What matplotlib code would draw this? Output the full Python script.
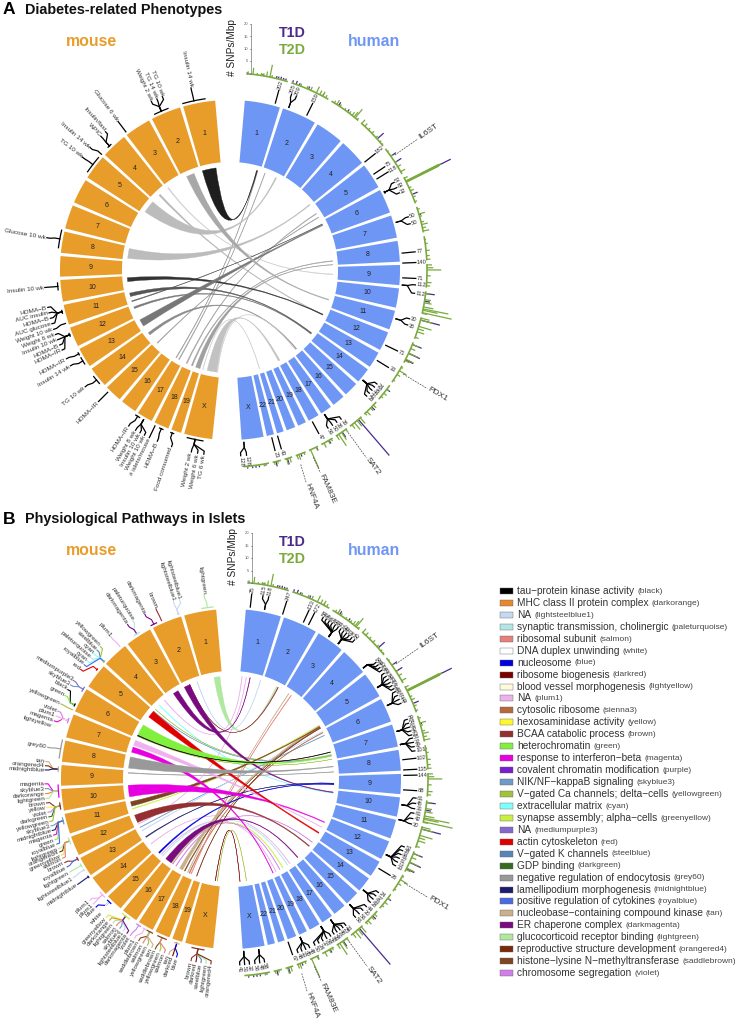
# -*- coding: utf-8 -*-
import numpy as np
import matplotlib
matplotlib.use("Agg")
import matplotlib.pyplot as plt
from matplotlib.path import Path
from matplotlib.patches import PathPatch

plt.rcParams['font.family'] = ['Liberation Sans', 'DejaVu Sans']

# -------------------------------
# Chromosomes (sizes in Mb)
# -------------------------------
mouse_chroms = [1, 2, 3, 4, 5, 6, 7, 8, 9, 10, 11, 12, 13, 14, 15, 16, 17, 18, 19, 'X']
mouse_sizes = [195, 182, 160, 157, 152, 150, 145, 129, 124, 131, 122, 120, 120, 125, 104, 98, 95, 90, 61, 171]
human_chroms = [1, 2, 3, 4, 5, 6, 7, 8, 9, 10, 11, 12, 13, 14, 15, 16, 17, 18, 19, 20, 21, 22, 'X']
human_sizes = [249, 243, 198, 191, 181, 171, 159, 146, 141, 136, 135, 134, 115, 107, 102, 90, 81, 78, 59, 63, 48, 51, 155]

# -------------------------------
# SNP density track (chrom, Mb, SNPs/Mbp)
# -------------------------------
t2d_bars = [
    (1, 5, 1), (1, 35, 2.6), (1, 60, 0.8), (1, 85, 1), (1, 100, 1), (1, 118, 2), (1, 138, 5), (1, 150, 1), (1, 225, 0.6),
    (2, 60, 1), (2, 100, 1.2), (2, 125, 1.5), (2, 162, 2.8), (2, 185, 1.8), (2, 205, 2), (2, 225, 1.2),
    (3, 20, 1), (3, 37, 2), (3, 60, 1), (3, 95, 0.8), (3, 130, 1), (3, 150, 1.6), (3, 165, 2.5), (3, 174, 4.5), (3, 190, 0.8),
    (4, 5, 2), (4, 30, 1.5), (4, 60, 1), (4, 90, 1.2), (4, 125, 1), (4, 160, 0.8), (4, 180, 0.6),
    (5, 20, 0.6), (5, 55, 1), (5, 100, 0.8), (5, 130, 1.5), (5, 165, 2),
    (6, 6, 1.5), (6, 25, 14.5), (6, 27, 15.7), (6, 29, 15.7), (6, 31, 15), (6, 33, 14.5), (6, 70, 1), (6, 90, 1.5), (6, 130, 1.2), (6, 160, 1),
    (7, 15, 1), (7, 45, 2.5), (7, 60, 1), (7, 95, 1.2), (7, 110, 2.5), (7, 130, 1.5), (7, 150, 2.5),
    (8, 20, 0.6), (8, 45, 1), (8, 87, 1.5), (8, 118, 1.3), (8, 140, 1.5),
    (9, 5, 2), (9, 22, 2.5), (9, 35, 5.7), (9, 70, 1.5), (9, 110, 2), (9, 130, 1.5),
    (10, 12, 2), (10, 50, 2.5), (10, 70, 3), (10, 95, 4), (10, 107, 10.3), (10, 115, 6), (10, 130, 12), (10, 134, 2),
    (11, 5, 3.5), (11, 17, 5), (11, 56, 5.3), (11, 72, 2.5), (11, 90, 3), (11, 125, 1.5),
    (12, 14, 3), (12, 40, 2), (12, 70, 4), (12, 110, 3.5), (12, 120, 2),
    (13, 10, 0.8), (13, 33, 3.3), (13, 60, 1.5), (13, 100, 0.8),
    (14, 30, 1), (14, 60, 1.5), (14, 85, 1),
    (15, 25, 1.5), (15, 50, 1.5), (15, 80, 2), (15, 95, 1),
    (16, 10, 3), (16, 35, 3), (16, 55, 3.5), (16, 75, 2),
    (17, 8, 1.5), (17, 40, 3.5), (17, 60, 5.5), (17, 75, 2),
    (18, 10, 1), (18, 30, 1.5), (18, 60, 2),
    (19, 12, 1.5), (19, 49, 8.2),
    (20, 10, 1), (20, 43, 2.2), (20, 55, 1.8),
    (21, 15, 2), (21, 35, 2.5),
    (22, 20, 1), (22, 40, 1.2),
    ('X', 30, 1), ('X', 130, 0.6),
]
t1d_bars = [
    (1, 95, 0.8), (1, 178, 1), (1, 190, 1), (1, 205, 1.2), (1, 220, 1), (1, 235, 1),
    (2, 7, 1.2), (2, 30, 1.5), (2, 50, 1), (2, 110, 1.2), (2, 204, 1),
    (3, 50, 1.6), (3, 115, 1.2),
    (4, 136, 3.5), (5, 55, 2.5), (5, 100, 3),
    (6, 29, 20), (6, 114, 2.5), (7, 50, 0.8),
    (10, 14, 3.7), (10, 60, 2.2), (11, 17, 8), (12, 14, 4), (12, 72, 5), (12, 114, 3.5),
    (14, 30, 1.6), (15, 40, 1.8), (16, 25, 19), (17, 35, 2.5), (18, 25, 1.5),
    (19, 10, 1.5), (20, 30, 1.2), (21, 30, 2.5), (22, 30, 2),
    ('X', 20, 0.8), ('X', 60, 1), ('X', 80, 1), ('X', 100, 1), ('X', 130, 1),
]

# -------------------------------
# Links: (mouse chr, start, end, human chr, start, end, colour), Mb
# -------------------------------
links_a = [
    (3, 147, 157, 9, 81, 89, '#cfcfcf'),
    (4, 74, 90, 12, 83, 93, '#b5b5b5'),
    (15, 23, 30, 5, 145, 151, '#9a9a9a'),
    (17, 18, 25, 1, 215, 221, '#999999'),
    (17, 50, 59, 2, 32, 38, '#a0a0a0'),
    (18, 20, 30, 5, 95, 103, '#a0a0a0'),
    (18, 76, 89, 8, 97, 105, '#a0a0a0'),
    (19, 12, 57, 8, 141, 146, '#a0a0a0'),
    (11, 99, 108, 6, 31, 37, '#5a5a5a'),
    (12, 21, 39, 14, 45, 54, '#777777'),
    (11, 20, 55, 14, 37, 45, '#555555'),
    (10, 16, 55, 12, 80, 89, '#333333'),
    (13, 23, 94, 6, 39, 50, '#777777'),
    (14, 36, 62, 16, 33, 43, '#8a8a8a'),
    ('X', 4, 9, 21, 33, 39, '#d0d0d0'),
    ('X', 150, 156, 16, 47, 53, '#d0d0d0'),
    ('X', 50, 146, 18, 50, 70, '#c2c2c2'),
    (8, 18, 116, 4, 180, 190, '#bcbcbc'),
    (5, 2, 127, 2, 166, 179, '#bcbcbc'),
    (2, 59, 139, 11, 54, 64, '#a8a8a8'),
    (1, 50, 188, 1, 205, 215, '#1e1e1e'),
]
links_b = [
    (2, 34, 41, 1, 238, 244, 'lightsteelblue1'),
    (4, 26, 33, 1, 21, 27, 'plum1'),
    (4, 97, 104, 10, 33, 37, 'cyan'),
    (4, 155, 157, 7, 101, 110, 'yellowgreen'),
    (5, 4, 9, 7, 112, 118, 'skyblue3'),
    (6, 127, 132, 7, 156, 158, 'yellowgreen'),
    (9, 20, 27, 8, 120, 125, 'grey60'),
    (11, 85, 92, 5, 134, 140, 'greenyellow'),
    (13, 4, 9, 6, 60, 66, 'skyblue3'),
    (13, 41, 48, 6, 12, 18, 'lightsteelblue1'),
    (12, 105, 112, 1, 70, 75, 'plum1'),
    (14, 60, 66, 17, 30, 36, 'plum1'),
    (15, 60, 66, 19, 10, 16, 'plum1'),
    (16, 72, 80, 18, 20, 27, 'greenyellow'),
    (15, 80, 86, 17, 60, 66, 'paleturquoise'),
    (17, 5, 12, 14, 40, 46, 'violet'),
    (16, 85, 92, 18, 60, 66, 'violet'),
    (18, 41, 48, 6, 25, 30, 'sienna3'),
    (18, 23, 30, 3, 60, 66, 'tan'),
    (18, 60, 66, 3, 95, 101, 'salmon'),
    (19, 10, 15, 5, 169, 174, 'orangered4'),
    (17, 103, 112, 5, 159, 165, 'saddlebrown'),
    (17, 50, 85, 5, 140, 157, 'tan'),
    ('X', 120, 124, 'X', 130, 134, 'darkred'),
    ('X', 140, 144, 'X', 55, 59, 'yellowgreen'),
    (1, 21, 80, 2, 164, 172, 'lightgreen'),
    (2, 115, 122, 2, 183, 191, 'brown'),
    (3, 45, 99, 1, 114, 120, 'darkmagenta'),
    (2, 114, 176, 10, 21, 29, 'darkmagenta'),
    (13, 113, 122, 9, 83, 91, 'midnightblue'),
    (15, 30, 44, 9, 93, 101, 'blue'),
    (16, 2, 69, 16, 27, 35, 'darkmagenta'),
    (12, 14, 92, 14, 95, 105, 'brown'),
    (11, 16, 62, 5, 151, 159, 'saddlebrown'),
    (10, 2, 117, 12, 64, 72, 'magenta'),
    (7, 76, 129, 19, 47, 53, 'magenta'),
    (7, 5, 59, 12, 130, 134, 'plum1'),
    (5, 9, 80, 13, 43, 56, 'red'),
    (6, 4, 114, 7, 114, 122, 'green'),
    (6, 118, 125, 7, 70, 76, 'black'),
    (8, 12, 125, 8, 56, 64, 'grey60'),
]

# -------------------------------
# QTL / module labels: (bar from, bar to, leaf from, leaf to, texts), degrees from top
# -------------------------------
labels_mouse_a = [
    (8.3, 15.8, 12.1, 12.1, ["Insulin 14 wk"]),
    (21, 25.8, 21.3, 25, ["TG 10 wk", "TG 14 wk", "Weight 2 wk"]),
    (37, 37, 37, 37, ["Glucose 6 wk"]),
    (43.5, 44.8, 42, 44, ["Insulin/fast", "WPIC"]),
    (48, 48, 48.8, 48.8, ["Insulin 14 wk"]),
    (49.5, 55.4, 52.6, 52.6, ["TG 10 wk"]),
    (76.7, 82.6, 80, 80, ["Glucose 10 wk"]),
    (94.3, 96.6, 95.4, 95.4, ["Insulin 10 wk"]),
    (103.5, 104.5, 101.6, 106.8, ["HOMA\u2212B", "AUC insulin", "HOMA\u2212B", "AUC glucose"]),
    (108, 108, 108.6, 108.6, ["Weight 10 wk"]),
    (111.5, 112.5, 110.3, 115.5, ["Weight 6 wk", "Insulin 10 wk", "HOMA\u2212B", "HOMA\u2212IR"]),
    (118.6, 119.4, 118.5, 118.5, ["HOMA\u2212IR"]),
    (120.5, 122.9, 121, 121, ["Insulin 14 wk"]),
    (128, 131, 128.9, 128.9, ["TG 10 wk"]),
    (135, 135, 135, 135, ["HOMA\u2212IR"]),
    (147, 148.5, 147, 147, ["HOMA\u2212IR"]),
    (150, 150, 149.5, 152.6, ["Weight 8 wk", "Insulin 10 wk", "Weight 10 wk"]),
    (154.3, 154.3, 154.3, 154.3, ["# islets/mouse"]),
    (156, 157.2, 157, 157, ["HOMA\u2212B"]),
    (160, 161, 161.7, 161.7, ["Food consumed"]),
    (165.7, 171, 168, 171.9, ["Weight 2 wk", "Weight 6 wk", "TG 6 wk"]),
]
labels_human_a = [
    (15.2, 15.2, 15.2, 15.2, ["202"]),
    (19.9, 19.9, 19.3, 20.9, ["205", "209"]),
    (26.4, 26.4, 26.4, 26.4, ["159"]),
    (51.3, 51.3, 51.3, 51.3, ["182"]),
    (56.3, 56.3, 56.3, 56.3, ["75"]),
    (58.2, 58.2, 58.2, 58.2, ["118"]),
    (63, 63.6, 61.9, 65.5, ["52", "82", "32"]),
    (74, 74, 73.4, 75.6, ["50", "50"]),
    (84.4, 84.4, 84.4, 84.4, ["77"]),
    (87.7, 87.7, 87.7, 87.7, ["140"]),
    (92.6, 92.6, 92.6, 92.6, ["71"]),
    (95, 95, 94.6, 97.2, ["112", "112"]),
    (106.4, 106.4, 105.2, 107.2, ["30", "35"]),
    (115.8, 115.8, 115.8, 115.8, ["71"]),
    (121.6, 121.6, 121.6, 121.6, ["33"]),
    (129.7, 129.7, 127.8, 132.7, ["24", "32", "44", "30", "38"]),
    (146.8, 146.8, 143.3, 148.2, ["36", "36", "50", "56"]),
    (151.5, 151.5, 151.5, 151.5, ["47"]),
    (164, 164, 164, 164, ["43"]),
    (166, 166, 166, 166, ["23"]),
    (175.4, 175.4, 174.9, 176.7, ["128", "128"]),
]
labels_mouse_b = [
    (6, 9.7, 8.3, 8.3, ["lightgreen"]),
    (17.5, 17.9, 16, 18, ["lightsteelblue1", "lightsteelblue1"]),
    (23.7, 23.7, 23.8, 23.8, ["brown"]),
    (25.5, 27.5, 27.6, 27.6, ["darkmagenta"]),
    (32, 34, 31.8, 33.8, ["paleturquoise", "darkmagenta"]),
    (40, 40, 40.2, 40.2, ["plum1"]),
    (47, 47.5, 44.6, 52.1, ["yellowgreen", "steelblue", "cyan", "paleturquoise", "cyan", "royalblue"]),
    (50.5, 51, 53.9, 53.9, ["red"]),
    (58, 59.5, 58, 59.6, ["mediumpurple3", "skyblue3"]),
    (64.3, 65, 61.3, 63.3, ["black", "green"]),
    (66.4, 66.4, 66.2, 66.2, ["yellowgreen"]),
    (69.5, 71, 68.6, 73.4, ["violet", "plum1", "magenta", "lightyellow"]),
    (77, 83, 80.2, 80.2, ["grey60"]),
    (86, 87.5, 84.6, 87.2, ["tan", "orangered4", "midnightblue"]),
    (92, 96, 91.5, 96, ["magenta", "skyblue3", "darkorange", "lightgreen"]),
    (98, 100, 97.4, 103.2, ["brown", "yellow", "violet", "darkgreen", "yellowgreen"]),
    (103, 105, 104.6, 110.5, ["skyblue3", "midnightblue", "magenta", "green", "royalblue"]),
    (110, 112, 112, 115.2, ["lightgreen", "orangered4", "greenyellow", "salmon"]),
    (117, 118, 116.7, 118.2, ["brown", "royalblue"]),
    (119.5, 120.5, 120, 120, ["lightgreen"]),
    (121.5, 122, 122, 122, ["lightsteelblue1"]),
    (124.2, 124.7, 124.5, 124.5, ["midnightblue"]),
    (131, 133, 130.7, 132.2, ["plum1", "plum1"]),
    (134.5, 136, 133.5, 136, ["blue", "white"]),
    (141, 144, 138, 146, ["greenyellow", "darkorange", "lightgreen", "salmon", "skyblue3", "lightsteelblue1", "darkmagenta"]),
    (147, 148.5, 147.3, 147.3, ["violet"]),
    (149.5, 150.5, 148.8, 148.8, ["plum1"]),
    (151, 153, 150.3, 154.8, ["saddlebrown", "salmon", "yellowgreen", "tan"]),
    (155, 158, 156, 159, ["saddlebrown", "yellowgreen", "salmon"]),
    (161, 162.5, 160.5, 163, ["tan", "darkred", "blue"]),
    (167, 171, 167.6, 173.8, ["brown", "darkred", "steelblue", "lightgreen", "orangered4"]),
]
labels_human_b = [
    (6.4, 6.4, 6.4, 6.4, ["25"]),
    (11.2, 11.2, 9.9, 11.7, ["115", "118"]),
    (17.4, 17.4, 17.4, 17.4, ["247"]),
    (24.8, 24.8, 24.8, 24.8, ["133"]),
    (26.7, 26.7, 26.7, 26.7, ["172"]),
    (34.5, 34.5, 29.7, 35.2, ["58", "42", "97", "51", "66", "84"]),
    (38.4, 38.4, 36.2, 41.6, ["77", "60", "49", "53", "71", "90"]),
    (50, 50, 51.2, 54.2, ["56", "44", "30", "62"]),
    (58, 58, 55.4, 61, ["38", "71", "46", "33", "52", "47"]),
    (64.8, 64.8, 62, 66, ["88", "51", "32", "49"]),
    (74, 74, 71.3, 76.3, ["39", "54", "61", "42", "70"]),
    (78.5, 78.5, 77.3, 81.3, ["55", "32", "47", "101"]),
    (83.6, 83.6, 83.6, 83.6, ["102"]),
    (87, 87, 87, 87, ["135"]),
    (88.8, 88.8, 88.8, 88.8, ["144"]),
    (93.6, 93.6, 93.6, 93.6, ["88"]),
    (98.6, 98.6, 95.9, 99.2, ["61", "45", "31"]),
    (103.6, 103.6, 100.6, 104, ["61", "42", "30"]),
    (116, 116, 111.4, 117.8, ["52", "38", "44", "27", "71", "33"]),
    (121.2, 121.2, 121.2, 121.2, ["26"]),
    (130, 130, 127.6, 131.5, ["24", "37", "33", "38"]),
    (136.6, 136.6, 133.3, 138, ["44", "30", "56", "56"]),
    (144.7, 144.7, 141.9, 146.4, ["33", "25", "46", "51", "36"]),
    (148.6, 148.6, 147.6, 153.2, ["42", "58", "37", "24", "50"]),
    (156.4, 156.4, 155, 158.9, ["48", "45", "33", "48"]),
    (160.7, 160.7, 160.7, 160.7, ["67"]),
    (170.8, 170.8, 169.6, 172.6, ["58", "48", "56"]),
    (175.8, 175.8, 174.3, 177.3, ["32", "51", "41"]),
]

# -------------------------------
# Legend
# -------------------------------
legend_terms = [
    "tau\u2212protein kinase activity", "MHC class II protein complex", "NA",
    "synaptic transmission, cholinergic", "ribosomal subunit", "DNA duplex unwinding",
    "nucleosome", "ribosome biogenesis", "blood vessel morphogenesis", "NA",
    "cytosolic ribosome", "hexosaminidase activity", "BCAA catabolic process",
    "heterochromatin", "response to interferon\u2212beta", "covalent chromatin modification",
    "NIK/NF\u2212kappaB signaling", "V\u2212gated Ca channels; delta\u2212cells", "extracellular matrix",
    "synapse assembly; alpha\u2212cells", "NA", "actin cytoskeleton", "V\u2212gated K channels",
    "GDP binding", "negative regulation of endocytosis", "lamellipodium morphogenesis",
    "positive regulation of cytokines", "nucleobase\u2212containing compound kinase",
    "ER chaperone complex", "glucocorticoid receptor binding", "reproductive structure development",
    "histone\u2212lysine N\u2212methyltransferase", "chromosome segregation",
]
legend_modules = [
    "black", "darkorange", "lightsteelblue1", "paleturquoise", "salmon", "white", "blue", "darkred",
    "lightyellow", "plum1", "sienna3", "yellow", "brown", "green", "magenta", "purple", "skyblue3",
    "yellowgreen", "cyan", "greenyellow", "mediumpurple3", "red", "steelblue", "darkgreen", "grey60",
    "midnightblue", "royalblue", "tan", "darkmagenta", "lightgreen", "orangered4", "saddlebrown", "violet",
]
legend_colors = [
    "#000000", "#e5892b", "#c6d8f2", "#b3e6e2", "#e6807a", "#ffffff", "#0000e0", "#7a0000",
    "#fdfbd8", "#eeb0ee", "#b9673c", "#fcf82c", "#942e30", "#80f03c", "#e800e0", "#7a1fd0", "#6e9cc8",
    "#a3c23c", "#80ffff", "#c8f040", "#8468cc", "#e00000", "#5a84b8", "#386a22", "#999999",
    "#1c1c70", "#4a6ae0", "#c8b08c", "#7a0a80", "#b0e8a0", "#7a2a0a", "#7d4520", "#d080e8",
]
module_colors = dict(zip(legend_modules, legend_colors))

# -------------------------------
# Style / layout
# -------------------------------
MOUSE = '#e89c2a'
HUMAN = '#6e96f5'
T1D = '#4b2a8c'
T2D = '#7aaa3e'
TEXT = '#333333'
R_OUT, R_IN, R_LINK, R_TRACK = 170, 108, 103, 197
GAP = 1.1
MOUSE_FROM, MOUSE_TO = 5.0, 174.0
HUMAN_FROM, HUMAN_TO = 5.0, 176.1
UNIT = 2.5  # track pixels per SNP/Mbp


def chrom_angles(chroms, sizes, start, stop):
    per_mb = (stop - start - GAP * (len(sizes) - 1)) / sum(sizes)
    table = {}
    a = start
    for c, s in zip(chroms, sizes):
        table[c] = (a, per_mb)
        a += s * per_mb + GAP
    return table


mouse_pos = chrom_angles(mouse_chroms, mouse_sizes, MOUSE_FROM, MOUSE_TO)
human_pos = chrom_angles(human_chroms, human_sizes, HUMAN_FROM, HUMAN_TO)


def m_ang(c, mb):
    return -(mouse_pos[c][0] + mb * mouse_pos[c][1])


def h_ang(c, mb):
    return human_pos[c][0] + mb * human_pos[c][1]


fig = plt.figure(figsize=(7.36, 10.21), dpi=100)
ax = fig.add_axes([0, 0, 1, 1])
ax.set_xlim(0, 736)
ax.set_ylim(1021, 0)
ax.axis('off')


def xy(cx, cy, r, deg):
    t = np.radians(deg)
    return cx + r * np.sin(t), cy - r * np.cos(t)


def sector(cx, cy, a1, a2, color):
    t = np.linspace(a1, a2, 40)
    x1, y1 = xy(cx, cy, R_OUT, t)
    x2, y2 = xy(cx, cy, R_IN, t[::-1])
    ax.fill(np.r_[x1, x2], np.r_[y1, y2], color=color, lw=0)


def draw_sectors(cx, cy, chroms, sizes, pos, sign, color):
    for c, s in zip(chroms, sizes):
        a, k = pos[c]
        sector(cx, cy, sign * a, sign * (a + s * k), color)
        tx, ty = xy(cx, cy, (R_OUT + R_IN) / 2, sign * (a + s * k / 2))
        ax.text(tx, ty, str(c), fontsize=5, color='#222222', ha='center', va='center')


def draw_track(cx, cy):
    for c, s in zip(human_chroms, human_sizes):
        a, k = human_pos[c]
        t = np.linspace(a, a + s * k, 30)
        ax.plot(*xy(cx, cy, R_TRACK, t), color=T2D, lw=1.2, solid_capstyle='butt')
    for c, mb, v in t2d_bars:
        d = h_ang(c, mb)
        x0, y0 = xy(cx, cy, R_TRACK, d)
        x1, y1 = xy(cx, cy, R_TRACK + v * UNIT, d)
        ax.plot([x0, x1], [y0, y1], color=T2D, lw=0.9, solid_capstyle='butt')
    for c, mb, v in t1d_bars:
        d = h_ang(c, mb)
        x0, y0 = xy(cx, cy, R_TRACK + 0.5, d)
        x1, y1 = xy(cx, cy, R_TRACK + v * UNIT, d)
        ax.plot([x0, x1], [y0, y1], color=T1D, lw=0.9, solid_capstyle='butt', zorder=1.5)
    # y axis of the track
    ax_x = cx + 21
    base = cy - 196
    ax.plot([ax_x, ax_x], [base, base - 20 * UNIT], color='#777777', lw=0.5)
    for v in [0, 5, 10, 15, 20]:
        y = base - v * UNIT
        ax.plot([ax_x - 1.5, ax_x], [y, y], color='#777777', lw=0.5)
        ax.text(ax_x - 2.5, y, str(v), fontsize=3, color='#555555', ha='right', va='center')
    ax.text(cx + 2, base - 26, "# SNPs/Mbp", fontsize=7.3, color='#222222', rotation=90, ha='center', va='center')
    # genes
    for name, d0, r0, r1, rt, d1 in [("IL6ST", 55.1, 201, 229, 242, 55.1), ("PDX1", 121, 202, 230, 242, 121),
                                     ("SAT2", 144, 201, 232, 243, 144), ("FAM83E", 156, 205, 222, 240, 156),
                                     ("HNF4A", 160, 207, 226, 240, 160.3)]:
        x0, y0 = xy(cx, cy, r0, d0)
        x1, y1 = xy(cx, cy, r1, d1)
        ax.plot([x0, x1], [y0, y1], color='#444444', lw=0.5, ls=(0, (2.5, 1.5)))
        tx, ty = xy(cx, cy, rt, d1)
        rot = 90 - d1
        ax.text(tx, ty, name, fontsize=6, color=TEXT, rotation=rot, rotation_mode='anchor', ha='center', va='center')


def draw_link(cx, cy, link, colors=None):
    mc, m1, m2, hc, h1, h2, col = link
    if colors is not None:
        col = colors[col]
    am = sorted([m_ang(mc, m1), m_ang(mc, m2)])
    ah = sorted([h_ang(hc, h1), h_ang(hc, h2)])
    arc1 = np.linspace(am[0], am[1], 12)
    arc2 = np.linspace(ah[0], ah[1], 12)
    x1, y1 = xy(cx, cy, R_LINK, arc1)
    x2, y2 = xy(cx, cy, R_LINK, arc2)
    verts = list(zip(x1, y1))
    codes = [Path.MOVETO] + [Path.LINETO] * (len(verts) - 1)
    verts += [(cx, cy), (x2[0], y2[0])]
    codes += [Path.CURVE3, Path.CURVE3]
    verts += list(zip(x2[1:], y2[1:]))
    codes += [Path.LINETO] * (len(x2) - 1)
    verts += [(cx, cy), (x1[0], y1[0])]
    codes += [Path.CURVE3, Path.CURVE3]
    ax.add_patch(PathPatch(Path(verts, codes), facecolor=col, edgecolor=col, lw=0.25))


def draw_tree(cx, cy, sign, row, fontsize, colored=False):
    lo, hi, start, stop, texts = row
    mid = (lo + hi) / 2
    if len(texts) > 1:
        leaves = np.linspace(start, stop, len(texts))
    else:
        leaves = [start]
    for i, (d, s) in enumerate(zip(leaves, texts)):
        col = module_colors[s] if colored else 'black'
        pts = [xy(cx, cy, 173, sign * mid), xy(cx, cy, 178, sign * mid), xy(cx, cy, 183, sign * d), xy(cx, cy, 186, sign * d)]
        ax.plot([p[0] for p in pts], [p[1] for p in pts], color=col, lw=0.9 if not colored else 0.8)
        tx, ty = xy(cx, cy, 187, sign * d)
        if sign < 0:
            ax.text(tx, ty, s, fontsize=fontsize, color=TEXT, rotation=d - 90, rotation_mode='anchor', ha='right', va='center')
        else:
            ax.text(tx, ty, s, fontsize=fontsize, color=TEXT, rotation=90 - d, rotation_mode='anchor', ha='left', va='center')
    if hi > lo:
        t = np.linspace(lo, hi, 8)
        col = module_colors[texts[0]] if colored else 'black'
        ax.plot(*xy(cx, cy, 173, sign * t), color=col, lw=0.9)


def draw_panel(cx, cy, letter, title, links, colors, lab_mouse, lab_human, colored):
    top = cy - 270
    ax.text(3, top + 10, letter, fontsize=12.5, fontweight='bold', color='black', va='center')
    ax.text(25, top + 10, title, fontsize=10.4, fontweight='bold', color='#111111', va='center')
    ax.text(91, top + 41, "mouse", fontsize=11.4, fontweight='bold', color=MOUSE, ha='center', va='center')
    ax.text(374, top + 41, "human", fontsize=11.4, fontweight='bold', color=HUMAN, ha='center', va='center')
    ax.text(292, top + 33, "T1D", fontsize=10.3, fontweight='bold', color=T1D, ha='center', va='center')
    ax.text(292, top + 50, "T2D", fontsize=10.3, fontweight='bold', color=T2D, ha='center', va='center')
    draw_sectors(cx, cy, mouse_chroms, mouse_sizes, mouse_pos, -1, MOUSE)
    draw_sectors(cx, cy, human_chroms, human_sizes, human_pos, 1, HUMAN)
    draw_track(cx, cy)
    for link in links:
        draw_link(cx, cy, link, colors)
    for row in lab_mouse:
        draw_tree(cx, cy, -1, row, 4.6, colored)
    for row in lab_human:
        draw_tree(cx, cy, 1, row, 4.2, False)


draw_panel(230, 270, "A", "Diabetes-related Phenotypes", links_a, None, labels_mouse_a, labels_human_a, False)
draw_panel(231, 779, "B", "Physiological Pathways in Islets", links_b, module_colors, labels_mouse_b, labels_human_b, True)

# -------------------------------
# Legend (drawn from the lists above)
# -------------------------------
renderer = fig.canvas.get_renderer()
for i, (term, mod, col) in enumerate(zip(legend_terms, legend_modules, legend_colors)):
    y = 591 + i * 11.94
    ax.fill([500, 513, 513, 500], [y - 3, y - 3, y + 3, y + 3], facecolor=col, edgecolor='#666666', lw=0.3)
    t = ax.text(517, y, term, fontsize=7.3, color='#333333', va='center')
    bb = t.get_window_extent(renderer)
    ax.text(bb.x1 + 3, y + 0.3, "(" + mod + ")", fontsize=6.0, color='#444444', va='center')

fig.savefig("out.png", dpi=100)
